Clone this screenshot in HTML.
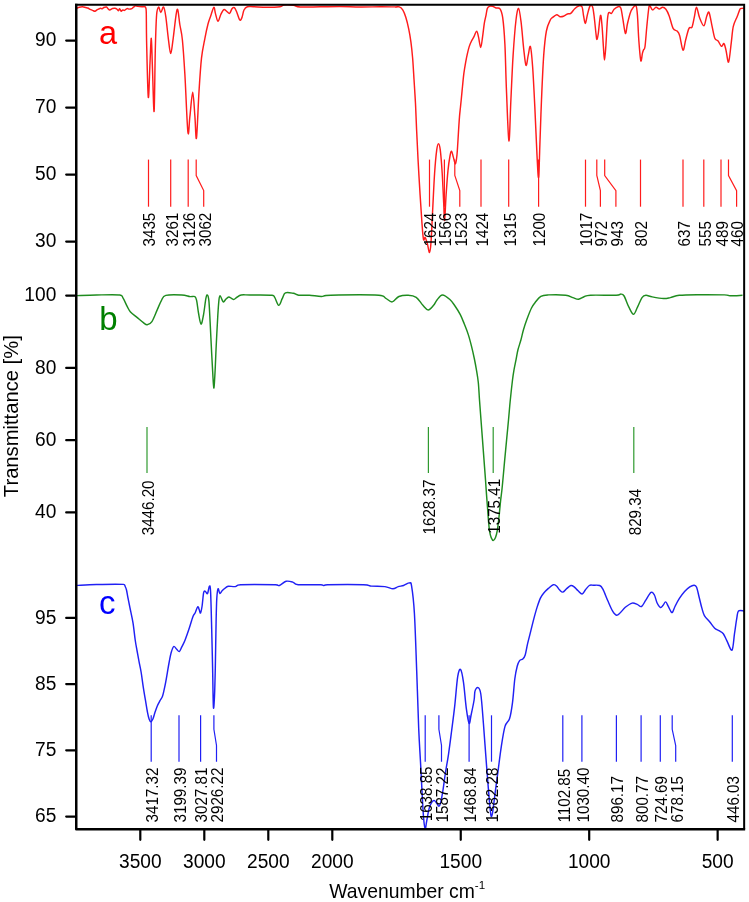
<!DOCTYPE html>
<html><head><meta charset="utf-8"><title>FTIR spectra</title>
<style>html,body{margin:0;padding:0;background:#fff;width:749px;height:902px;overflow:hidden}svg{display:block}svg{will-change:transform}</style>
</head><body>
<svg width="749" height="902" viewBox="0 0 749 902" font-family='"Liberation Sans", sans-serif'>
<rect width="749" height="902" fill="#fff"/>
<g fill="none" stroke-width="1.45" stroke-linejoin="round">
<path d="M76.60 8.30 C77.05 8.12 78.32 7.47 79.30 7.20 C80.28 6.93 81.43 6.65 82.50 6.70 C83.57 6.75 84.82 7.28 85.70 7.50 C86.58 7.72 87.08 7.68 87.80 8.00 C88.52 8.32 89.20 9.00 90.00 9.40 C90.80 9.80 91.77 10.10 92.60 10.40 C93.43 10.70 94.20 11.33 95.00 11.20 C95.80 11.07 96.47 10.08 97.40 9.60 C98.33 9.12 99.80 8.43 100.60 8.30 C101.40 8.17 101.67 8.93 102.20 8.80 C102.73 8.67 103.08 7.80 103.80 7.50 C104.52 7.20 105.78 6.78 106.50 7.00 C107.22 7.22 107.57 8.32 108.10 8.80 C108.63 9.28 109.08 9.90 109.70 9.90 C110.32 9.90 111.40 9.02 111.80 8.80 C112.10 8.58 111.80 8.68 112.10 8.60 C112.60 8.52 114.00 8.22 114.80 8.30 C115.60 8.38 116.28 8.70 116.90 9.10 C117.52 9.50 118.05 10.75 118.50 10.70 C118.95 10.65 119.15 8.72 119.60 8.80 C120.05 8.88 120.67 11.02 121.20 11.20 C121.73 11.38 122.27 10.03 122.80 9.90 C123.33 9.77 123.68 10.62 124.40 10.40 C125.12 10.18 126.30 8.82 127.10 8.60 C127.90 8.38 128.40 9.10 129.20 9.10 C130.00 9.10 131.18 8.92 131.90 8.60 C132.62 8.28 132.88 7.65 133.50 7.20 C134.12 6.75 134.88 6.03 135.60 5.90 C136.32 5.77 136.73 6.27 137.80 6.40 C138.87 6.53 140.85 6.65 142.00 6.70 C143.15 6.75 144.07 6.48 144.70 6.70 C145.33 6.92 145.53 6.88 145.80 8.00 C146.07 9.12 146.17 7.80 146.30 13.40 C146.43 19.00 146.30 27.62 146.60 41.60 C146.93 55.58 147.73 93.73 148.30 97.30 C148.87 100.87 149.50 72.83 150.00 63.00 C150.50 53.17 150.90 37.72 151.30 38.30 C151.70 38.88 151.93 54.32 152.40 66.50 C152.87 78.68 153.62 114.17 154.10 111.40 C154.58 108.63 154.88 65.97 155.30 49.90 C155.72 33.83 156.05 22.15 156.60 15.00 C157.15 7.85 157.90 7.42 158.60 7.00 C159.30 6.58 159.97 12.50 160.80 12.50 C161.63 12.50 162.77 6.32 163.60 7.00 C164.43 7.68 165.02 11.38 165.80 16.60 C166.58 21.82 167.48 32.13 168.30 38.30 C169.12 44.47 169.88 53.60 170.70 53.60 C171.52 53.60 172.13 45.63 173.20 38.30 C174.27 30.97 175.98 11.82 177.10 9.60 C178.22 7.38 179.02 19.93 179.90 25.00 C180.78 30.07 181.57 31.70 182.40 40.00 C183.23 48.30 183.98 59.43 184.90 74.80 C185.82 90.17 187.07 125.27 187.90 132.20 C188.73 139.13 189.10 123.05 189.90 116.40 C190.70 109.75 191.87 92.30 192.70 92.30 C193.53 92.30 194.27 108.78 194.90 116.40 C195.53 124.02 195.82 142.15 196.50 138.00 C197.18 133.85 198.17 104.80 199.00 91.50 C199.83 78.20 200.52 67.07 201.50 58.20 C202.48 49.33 203.82 44.00 204.90 38.30 C205.98 32.60 207.03 27.72 208.00 24.00 C208.97 20.28 209.73 18.78 210.70 16.00 C211.67 13.22 213.02 7.73 213.80 7.30 C214.58 6.87 214.70 11.05 215.40 13.40 C216.10 15.75 217.12 21.18 218.00 21.40 C218.88 21.62 219.73 16.67 220.70 14.70 C221.67 12.73 222.80 10.17 223.80 9.60 C224.80 9.03 225.73 10.67 226.70 11.30 C227.67 11.93 228.72 13.83 229.60 13.40 C230.48 12.97 231.20 9.65 232.00 8.70 C232.80 7.75 233.62 7.15 234.40 7.70 C235.18 8.25 235.80 9.95 236.70 12.00 C237.60 14.05 238.92 19.10 239.80 20.00 C240.68 20.90 241.30 19.07 242.00 17.40 C242.70 15.73 243.10 11.78 244.00 10.00 C244.90 8.22 245.83 7.25 247.40 6.70 C248.97 6.15 250.17 6.60 253.40 6.70 C256.63 6.80 262.37 7.30 266.80 7.30 C271.23 7.30 277.13 7.08 280.00 6.70 C282.87 6.32 281.75 5.23 284.00 5.00 C286.25 4.77 290.83 4.97 293.50 5.30 C296.17 5.63 295.58 6.75 300.00 7.00 C304.42 7.25 313.33 6.88 320.00 6.80 C326.67 6.72 333.33 6.47 340.00 6.50 C346.67 6.53 353.33 6.95 360.00 7.00 C366.67 7.05 374.17 6.82 380.00 6.80 C385.83 6.78 391.78 6.88 395.00 6.90 C398.22 6.92 397.98 6.37 399.30 6.90 C400.62 7.43 401.82 8.37 402.90 10.10 C403.98 11.83 404.83 14.18 405.80 17.30 C406.77 20.42 407.85 24.72 408.70 28.80 C409.55 32.88 410.25 36.98 410.90 41.80 C411.55 46.62 412.08 51.45 412.60 57.70 C413.12 63.95 413.52 71.62 414.00 79.30 C414.48 86.98 415.07 95.40 415.50 103.80 C415.93 112.20 416.18 120.53 416.60 129.70 C417.02 138.87 417.42 147.93 418.00 158.80 C418.58 169.67 419.43 184.08 420.10 194.90 C420.77 205.72 421.43 216.27 422.00 223.70 C422.57 231.13 422.97 237.22 423.50 239.50 C424.03 241.78 424.55 236.67 425.20 237.40 C425.85 238.13 426.68 241.38 427.40 243.90 C428.12 246.42 428.90 252.75 429.50 252.50 C430.10 252.25 430.47 249.60 431.00 242.40 C431.53 235.20 432.10 220.83 432.70 209.30 C433.30 197.77 433.93 183.05 434.60 173.20 C435.27 163.35 436.05 155.12 436.70 150.20 C437.35 145.28 437.90 143.70 438.50 143.70 C439.10 143.70 439.68 145.28 440.30 150.20 C440.92 155.12 441.63 164.40 442.20 173.20 C442.77 182.00 443.30 195.15 443.70 203.00 C444.10 210.85 444.20 221.65 444.60 220.30 C445.00 218.95 445.53 203.22 446.10 194.90 C446.67 186.58 447.35 176.88 448.00 170.40 C448.65 163.92 449.40 159.20 450.00 156.00 C450.60 152.80 451.03 150.97 451.60 151.20 C452.17 151.43 452.75 155.30 453.40 157.40 C454.05 159.50 454.92 164.10 455.50 163.80 C456.08 163.50 456.52 159.03 456.90 155.60 C457.28 152.17 457.52 147.48 457.80 143.20 C458.08 138.92 458.32 134.33 458.60 129.90 C458.88 125.47 459.20 120.30 459.50 116.60 C459.80 112.90 460.12 110.47 460.40 107.70 C460.68 104.93 460.85 103.53 461.20 100.00 C461.55 96.47 462.05 90.97 462.50 86.50 C462.95 82.03 463.38 77.18 463.90 73.20 C464.42 69.22 465.02 65.85 465.60 62.60 C466.18 59.35 466.80 56.37 467.40 53.70 C468.00 51.03 468.53 48.67 469.20 46.60 C469.87 44.53 470.58 43.00 471.40 41.30 C472.22 39.60 473.22 38.10 474.10 36.40 C474.98 34.70 475.97 31.02 476.70 31.10 C477.43 31.18 477.83 34.17 478.50 36.90 C479.17 39.63 480.02 47.55 480.70 47.50 C481.38 47.45 482.00 40.63 482.60 36.60 C483.20 32.57 483.73 26.85 484.30 23.30 C484.87 19.75 485.50 17.75 486.00 15.30 C486.50 12.85 486.75 10.10 487.30 8.60 C487.85 7.10 488.42 6.68 489.30 6.30 C490.18 5.92 491.48 6.02 492.60 6.30 C493.72 6.58 494.77 7.58 496.00 8.00 C497.23 8.42 498.88 7.18 500.00 8.80 C501.12 10.42 501.88 11.78 502.70 17.70 C503.52 23.62 504.28 32.47 504.90 44.30 C505.52 56.13 505.73 72.62 506.40 88.70 C507.07 104.78 508.15 138.95 508.90 140.80 C509.65 142.65 510.20 114.03 510.90 99.80 C511.60 85.57 512.25 68.70 513.10 55.40 C513.95 42.10 515.08 27.83 516.00 20.00 C516.92 12.17 517.75 8.03 518.60 8.40 C519.45 8.77 520.25 15.47 521.10 22.20 C521.95 28.93 522.88 41.60 523.70 48.80 C524.52 56.00 525.25 64.30 526.00 65.40 C526.75 66.50 527.47 58.53 528.20 55.40 C528.93 52.27 529.67 44.75 530.40 46.60 C531.13 48.45 531.87 56.53 532.60 66.50 C533.33 76.47 534.07 91.62 534.80 106.40 C535.53 121.18 536.37 143.37 537.00 155.20 C537.63 167.03 538.12 179.25 538.60 177.40 C539.08 175.55 539.42 157.03 539.90 144.10 C540.38 131.17 540.87 114.58 541.50 99.80 C542.13 85.02 542.88 66.87 543.70 55.40 C544.52 43.93 545.30 36.90 546.40 31.00 C547.50 25.10 549.25 22.27 550.30 20.00 C551.35 17.73 551.63 18.28 552.70 17.40 C553.77 16.52 555.48 14.82 556.70 14.70 C557.92 14.58 558.88 16.43 560.00 16.70 C561.12 16.97 562.17 16.75 563.40 16.30 C564.63 15.85 566.18 14.48 567.40 14.00 C568.62 13.52 569.48 14.28 570.70 13.40 C571.92 12.52 573.37 9.93 574.70 8.70 C576.03 7.47 577.48 6.33 578.70 6.00 C579.92 5.67 581.18 5.03 582.00 6.70 C582.82 8.37 583.03 13.22 583.60 16.00 C584.17 18.78 584.77 23.62 585.40 23.40 C586.03 23.18 586.63 17.60 587.40 14.70 C588.17 11.80 589.15 7.33 590.00 6.00 C590.85 4.67 591.82 5.03 592.50 6.70 C593.18 8.37 593.50 11.33 594.10 16.00 C594.70 20.67 595.62 30.80 596.10 34.70 C596.58 38.60 596.63 39.62 597.00 39.40 C597.37 39.18 597.72 37.40 598.30 33.40 C598.88 29.40 599.87 16.52 600.50 15.40 C601.13 14.28 601.62 21.48 602.10 26.70 C602.58 31.92 603.00 41.13 603.40 46.70 C603.80 52.27 604.10 60.10 604.50 60.10 C604.90 60.10 605.32 53.38 605.80 46.70 C606.28 40.02 606.92 25.67 607.40 20.00 C607.88 14.33 608.03 13.80 608.70 12.70 C609.37 11.60 610.50 13.97 611.40 13.40 C612.30 12.83 612.98 10.42 614.10 9.30 C615.22 8.18 616.98 6.92 618.10 6.70 C619.22 6.48 620.02 6.00 620.80 8.00 C621.58 10.00 622.03 14.47 622.80 18.70 C623.57 22.93 624.63 32.52 625.40 33.40 C626.17 34.28 626.62 27.33 627.40 24.00 C628.18 20.67 629.20 16.07 630.10 13.40 C631.00 10.73 631.80 9.23 632.80 8.00 C633.80 6.77 635.32 4.67 636.10 6.00 C636.88 7.33 637.05 10.33 637.50 16.00 C637.95 21.67 638.25 32.55 638.80 40.00 C639.35 47.45 640.20 58.47 640.80 60.70 C641.40 62.93 641.95 55.18 642.40 53.40 C642.85 51.62 643.07 51.12 643.50 50.00 C643.93 48.88 644.45 50.58 645.00 46.70 C645.55 42.82 646.17 33.15 646.80 26.70 C647.43 20.25 648.27 11.45 648.80 8.00 C649.33 4.55 649.37 5.68 650.00 6.00 C650.63 6.32 651.60 9.68 652.60 9.90 C653.60 10.12 654.88 7.45 656.00 7.30 C657.12 7.15 658.20 9.00 659.30 9.00 C660.40 9.00 661.50 7.25 662.60 7.30 C663.70 7.35 664.80 7.87 665.90 9.30 C667.00 10.73 668.00 12.72 669.20 15.90 C670.40 19.08 671.78 25.87 673.10 28.40 C674.42 30.93 676.00 29.88 677.10 31.10 C678.20 32.32 678.72 32.52 679.70 35.70 C680.68 38.88 682.00 49.53 683.00 50.20 C684.00 50.87 684.70 43.33 685.70 39.70 C686.70 36.07 687.95 30.50 689.00 28.40 C690.05 26.30 691.12 28.97 692.00 27.10 C692.88 25.23 693.55 20.50 694.30 17.20 C695.05 13.90 695.62 7.20 696.50 7.30 C697.38 7.40 698.37 14.72 699.60 17.80 C700.83 20.88 702.70 26.12 703.90 25.80 C705.10 25.48 705.93 18.10 706.80 15.90 C707.67 13.70 708.22 10.85 709.10 12.60 C709.98 14.35 711.15 22.12 712.10 26.40 C713.05 30.68 713.80 35.87 714.80 38.30 C715.80 40.73 717.00 39.67 718.10 41.00 C719.20 42.33 720.42 45.87 721.40 46.30 C722.38 46.73 723.23 42.95 724.00 43.60 C724.77 44.25 725.23 47.12 726.00 50.20 C726.77 53.28 727.72 63.42 728.60 62.10 C729.48 60.78 730.52 48.25 731.30 42.30 C732.08 36.35 732.32 30.70 733.30 26.40 C734.28 22.10 736.08 19.37 737.20 16.50 C738.32 13.63 739.27 10.55 740.00 9.20 C740.73 7.85 740.93 8.55 741.60 8.40 C742.27 8.25 743.60 8.32 744.00 8.30" stroke="#ff1c1c"/>
<path d="M77.10 295.60 C80.32 295.50 89.27 295.10 96.40 295.00 C103.53 294.90 115.45 294.47 119.90 295.00 C123.10 295.53 121.87 296.25 123.10 298.20 C124.33 300.15 126.07 304.40 127.30 306.70 C128.53 309.00 128.88 310.22 130.50 312.00 C132.12 313.78 134.85 315.62 137.00 317.40 C139.15 319.18 141.70 321.47 143.40 322.70 C145.10 323.93 145.78 324.98 147.20 324.80 C148.62 324.62 150.23 324.08 151.90 321.60 C153.57 319.12 155.60 313.45 157.20 309.90 C158.80 306.35 160.07 302.72 161.50 300.30 C162.93 297.88 162.42 296.28 165.80 295.40 C169.18 294.52 177.77 294.80 181.80 295.00 C185.83 295.20 187.82 296.33 190.00 296.60 C192.18 296.87 193.78 295.88 194.90 296.60 C196.02 297.32 196.10 298.17 196.70 300.90 C197.30 303.63 197.78 309.15 198.50 313.00 C199.22 316.85 200.18 323.58 201.00 324.00 C201.82 324.42 202.58 319.77 203.40 315.50 C204.22 311.23 205.23 301.82 205.90 298.40 C206.57 294.98 206.90 294.58 207.40 295.00 C207.90 295.42 208.45 296.47 208.90 300.90 C209.35 305.33 209.70 314.08 210.10 321.60 C210.50 329.12 210.88 337.87 211.30 346.00 C211.72 354.13 212.18 363.40 212.60 370.40 C213.02 377.40 213.40 387.60 213.80 388.00 C214.20 388.40 214.60 379.80 215.00 372.80 C215.40 365.80 215.73 355.55 216.20 346.00 C216.67 336.45 217.33 323.23 217.80 315.50 C218.27 307.77 218.62 302.90 219.00 299.60 C219.38 296.30 219.60 295.70 220.10 295.70 C220.60 295.70 221.43 298.55 222.00 299.60 C222.57 300.65 222.83 302.10 223.50 302.00 C224.17 301.90 225.12 299.83 226.00 299.00 C226.88 298.17 227.88 297.10 228.80 297.00 C229.72 296.90 230.62 298.00 231.50 298.40 C232.38 298.80 233.18 299.60 234.10 299.40 C235.02 299.20 235.82 297.93 237.00 297.20 C238.18 296.47 239.03 295.37 241.20 295.00 C243.37 294.63 244.87 294.97 250.00 295.00 C255.13 295.03 267.88 294.82 272.00 295.20 C274.70 295.58 273.58 295.62 274.70 297.30 C275.82 298.98 277.45 305.07 278.70 305.30 C279.95 305.53 281.08 300.78 282.20 298.70 C283.32 296.62 283.53 293.70 285.40 292.80 C287.27 291.90 291.18 292.90 293.40 293.30 C295.62 293.70 296.03 294.88 298.70 295.20 C301.37 295.52 305.62 294.98 309.40 295.20 C313.18 295.42 317.83 296.50 321.40 296.50 C324.97 296.50 321.40 295.42 330.80 295.20 C340.38 294.98 369.78 294.72 378.90 295.20 C385.50 295.68 383.28 296.98 385.50 298.10 C387.72 299.22 389.97 302.17 392.20 301.90 C394.43 301.63 396.23 297.62 398.90 296.50 C401.57 295.38 405.32 295.07 408.20 295.20 C411.08 295.33 413.75 295.62 416.20 297.30 C418.65 298.98 420.90 303.20 422.90 305.30 C424.90 307.40 426.42 309.90 428.20 309.90 C429.98 309.90 432.13 306.95 433.60 305.30 C435.07 303.65 435.53 301.72 437.00 300.00 C438.47 298.28 440.25 295.08 442.40 295.00 C444.55 294.92 447.80 297.67 449.90 299.50 C452.00 301.33 453.27 303.48 455.00 306.00 C456.73 308.52 458.75 311.60 460.30 314.60 C461.85 317.60 462.97 320.67 464.30 324.00 C465.63 327.33 467.08 330.83 468.30 334.60 C469.52 338.37 470.60 342.62 471.60 346.60 C472.60 350.58 473.52 354.73 474.30 358.50 C475.08 362.27 475.63 365.20 476.30 369.20 C476.97 373.20 477.77 377.37 478.30 382.50 C478.83 387.63 479.05 393.75 479.50 400.00 C479.95 406.25 480.50 413.35 481.00 420.00 C481.50 426.65 482.00 433.25 482.50 439.90 C483.00 446.55 483.50 453.25 484.00 459.90 C484.50 466.55 485.08 474.05 485.50 479.80 C485.92 485.55 486.15 489.57 486.50 494.40 C486.85 499.23 487.23 504.00 487.60 508.80 C487.97 513.60 488.35 519.35 488.70 523.20 C489.05 527.05 489.28 529.50 489.70 531.90 C490.12 534.30 490.60 536.17 491.20 537.60 C491.80 539.03 492.58 540.50 493.30 540.50 C494.02 540.50 494.83 539.28 495.50 537.60 C496.17 535.92 496.70 534.00 497.30 530.40 C497.90 526.80 498.57 520.80 499.10 516.00 C499.63 511.20 500.03 505.93 500.50 501.60 C500.97 497.27 501.50 493.63 501.90 490.00 C502.30 486.37 502.43 484.82 502.90 479.80 C503.37 474.78 504.08 466.55 504.70 459.90 C505.32 453.25 505.97 446.55 506.60 439.90 C507.23 433.25 507.88 426.65 508.50 420.00 C509.12 413.35 509.63 406.67 510.30 400.00 C510.97 393.33 511.88 385.02 512.50 380.00 C513.12 374.98 513.42 373.25 514.00 369.90 C514.58 366.55 515.35 363.22 516.00 359.90 C516.65 356.58 517.08 353.32 517.90 350.00 C518.72 346.68 519.98 343.33 520.90 340.00 C521.82 336.67 522.35 333.57 523.40 330.00 C524.45 326.43 525.85 322.27 527.20 318.60 C528.55 314.93 530.20 310.65 531.50 308.00 C532.80 305.35 533.45 304.65 535.00 302.70 C536.55 300.75 538.50 297.60 540.80 296.30 C543.10 295.00 544.65 295.08 548.80 294.90 C552.95 294.72 561.68 294.75 565.70 295.20 C569.72 295.65 570.77 296.93 572.90 297.60 C575.03 298.27 576.63 299.33 578.50 299.20 C580.37 299.07 582.10 297.47 584.10 296.80 C586.10 296.13 585.17 295.47 590.50 295.20 C595.83 294.93 611.03 295.38 616.10 295.20 C620.90 295.02 619.57 293.97 620.90 294.10 C622.23 294.23 622.77 293.82 624.10 296.00 C625.43 298.18 627.33 304.15 628.90 307.20 C630.47 310.25 632.07 314.32 633.50 314.30 C634.93 314.28 636.08 309.88 637.50 307.10 C638.92 304.32 640.60 299.57 642.00 297.60 C643.40 295.63 644.20 295.42 645.90 295.30 C647.60 295.18 649.27 296.37 652.20 296.90 C655.13 297.43 660.48 298.38 663.50 298.50 C666.52 298.62 667.67 298.13 670.30 297.60 C672.93 297.07 674.80 295.78 679.30 295.30 C683.80 294.82 689.78 294.77 697.30 294.70 C704.82 294.63 718.95 294.72 724.40 294.90 C729.85 295.08 726.98 295.73 730.00 295.80 C733.02 295.87 740.42 295.38 742.50 295.30" stroke="#1f8c1f"/>
<path d="M77.10 585.40 C80.32 585.25 88.67 584.67 96.40 584.50 C104.13 584.33 118.70 584.07 123.50 584.40 C125.20 584.73 124.70 585.57 125.20 586.50 C125.70 587.43 126.03 588.08 126.50 590.00 C126.97 591.92 127.42 595.00 128.00 598.00 C128.58 601.00 129.17 603.85 130.00 608.00 C130.83 612.15 132.13 617.57 133.00 622.90 C133.87 628.23 134.53 635.40 135.20 640.00 C135.87 644.60 136.37 646.93 137.00 650.50 C137.63 654.07 138.32 657.82 139.00 661.40 C139.68 664.98 140.38 667.67 141.10 672.00 C141.82 676.33 142.58 682.75 143.30 687.40 C144.02 692.05 144.70 695.75 145.40 699.90 C146.10 704.05 146.88 709.12 147.50 712.30 C148.12 715.48 148.55 717.43 149.10 719.00 C149.65 720.57 150.17 721.70 150.80 721.70 C151.43 721.70 152.20 720.57 152.90 719.00 C153.60 717.43 154.25 714.52 155.00 712.30 C155.75 710.08 156.57 707.63 157.40 705.70 C158.23 703.77 159.17 702.23 160.00 700.70 C160.83 699.17 161.72 698.30 162.40 696.50 C163.08 694.70 163.53 692.38 164.10 689.90 C164.67 687.42 165.25 684.52 165.80 681.60 C166.35 678.68 166.85 675.58 167.40 672.40 C167.95 669.22 168.47 665.82 169.10 662.50 C169.73 659.18 170.43 655.17 171.20 652.50 C171.97 649.83 172.82 647.08 173.70 646.50 C174.58 645.92 175.57 648.15 176.50 649.00 C177.43 649.85 178.42 651.95 179.30 651.60 C180.18 651.25 180.85 648.80 181.80 646.90 C182.75 645.00 183.82 643.13 185.00 640.20 C186.18 637.27 187.60 633.18 188.90 629.30 C190.20 625.42 191.77 619.62 192.80 616.90 C193.83 614.18 194.28 614.68 195.10 613.00 C195.92 611.32 197.00 607.32 197.70 606.80 C198.40 606.28 198.83 608.87 199.30 609.90 C199.77 610.93 200.03 613.65 200.50 613.00 C200.97 612.35 201.58 609.37 202.10 606.00 C202.62 602.63 203.08 595.25 203.60 592.80 C204.12 590.35 204.55 591.17 205.20 591.30 C205.85 591.43 206.80 594.45 207.50 593.60 C208.20 592.75 208.88 586.45 209.40 586.20 C209.92 585.95 210.22 584.92 210.60 592.10 C210.98 599.28 211.37 616.63 211.70 629.30 C212.03 641.97 212.32 655.17 212.60 668.10 C212.88 681.03 213.08 702.23 213.40 706.90 C213.72 711.57 214.18 702.57 214.50 696.10 C214.82 689.63 215.03 680.52 215.30 668.10 C215.57 655.68 215.85 633.23 216.10 621.60 C216.35 609.97 216.47 603.78 216.80 598.30 C217.13 592.82 217.58 589.48 218.10 588.70 C218.62 587.92 219.20 593.30 219.90 593.60 C220.60 593.90 221.27 591.53 222.30 590.50 C223.33 589.47 225.07 588.12 226.10 587.40 C227.13 586.68 226.97 586.33 228.50 586.20 C230.03 586.07 233.27 586.85 235.30 586.60 C237.33 586.35 235.30 585.02 240.70 584.70 C247.38 584.38 268.95 584.57 275.40 584.70 C279.40 584.83 277.62 586.07 279.40 585.50 C281.18 584.93 283.87 581.87 286.10 581.30 C288.33 580.73 290.80 581.53 292.80 582.10 C294.80 582.67 293.43 584.27 298.10 584.70 C302.77 585.13 316.57 584.57 320.80 584.70 C323.50 584.83 322.38 585.50 323.50 585.50 C324.62 585.50 323.50 584.83 327.50 584.70 C334.17 584.57 356.17 584.47 363.50 584.70 C370.83 584.93 367.93 585.78 371.50 586.10 C375.07 586.42 381.33 586.15 384.90 586.60 C388.47 587.05 390.68 588.80 392.90 588.80 C395.12 588.80 396.42 587.15 398.20 586.60 C399.98 586.05 401.73 586.12 403.60 585.50 C405.47 584.88 408.07 582.80 409.40 582.90 C410.73 583.00 410.77 581.05 411.60 586.10 C412.43 591.15 413.55 599.07 414.40 613.20 C415.25 627.33 415.98 651.68 416.70 670.90 C417.42 690.12 418.07 713.32 418.70 728.50 C419.33 743.68 419.93 751.23 420.50 762.00 C421.07 772.77 421.58 783.77 422.10 793.10 C422.62 802.43 423.08 812.05 423.60 818.00 C424.12 823.95 424.68 828.28 425.20 828.80 C425.72 829.32 426.05 824.47 426.70 821.10 C427.35 817.73 428.18 811.83 429.10 808.60 C430.02 805.37 431.30 803.03 432.20 801.70 C433.10 800.37 433.73 800.35 434.50 800.60 C435.27 800.85 436.07 802.25 436.80 803.20 C437.53 804.15 438.25 806.43 438.90 806.30 C439.55 806.17 440.02 805.12 440.70 802.40 C441.38 799.68 442.22 794.90 443.00 790.00 C443.78 785.10 444.48 778.95 445.40 773.00 C446.32 767.05 447.47 761.30 448.50 754.30 C449.53 747.30 450.57 739.02 451.60 731.00 C452.63 722.98 453.68 715.25 454.70 706.20 C455.72 697.15 456.72 682.82 457.70 676.70 C458.68 670.58 459.63 668.55 460.60 669.50 C461.57 670.45 462.55 675.92 463.50 682.40 C464.45 688.88 465.37 701.58 466.30 708.40 C467.23 715.22 468.32 722.12 469.10 723.30 C469.88 724.48 470.17 719.38 471.00 715.50 C471.83 711.62 473.43 704.07 474.10 700.00 C474.77 695.93 474.37 693.17 475.00 691.10 C475.63 689.03 476.93 687.12 477.90 687.60 C478.87 688.08 479.88 688.05 480.80 694.00 C481.72 699.95 482.58 713.25 483.40 723.30 C484.22 733.35 484.92 743.95 485.70 754.30 C486.48 764.65 487.37 776.35 488.10 785.40 C488.83 794.45 489.58 803.43 490.10 808.60 C490.62 813.77 490.77 815.87 491.20 816.40 C491.63 816.93 492.05 815.68 492.70 811.80 C493.35 807.92 494.18 800.10 495.10 793.10 C496.02 786.10 497.17 777.55 498.20 769.80 C499.23 762.05 500.17 753.83 501.30 746.60 C502.43 739.37 503.62 731.08 505.00 726.40 C506.38 721.72 508.35 722.47 509.60 718.50 C510.85 714.53 511.63 709.18 512.50 702.60 C513.37 696.02 514.02 685.07 514.80 679.00 C515.58 672.93 516.40 669.27 517.20 666.20 C518.00 663.13 518.67 661.80 519.60 660.60 C520.53 659.40 521.87 659.93 522.80 659.00 C523.73 658.07 524.40 657.55 525.20 655.00 C526.00 652.45 526.67 647.72 527.60 643.70 C528.53 639.68 529.73 635.17 530.80 630.90 C531.87 626.63 532.93 622.10 534.00 618.10 C535.07 614.10 536.13 610.23 537.20 606.90 C538.27 603.57 539.33 600.38 540.40 598.10 C541.47 595.82 542.27 594.82 543.60 593.20 C544.93 591.58 546.78 589.82 548.40 588.40 C550.02 586.98 551.95 585.10 553.30 584.70 C554.65 584.30 555.43 585.12 556.50 586.00 C557.57 586.88 558.63 588.98 559.70 590.00 C560.77 591.02 561.70 592.37 562.90 592.10 C564.10 591.83 565.57 589.50 566.90 588.40 C568.23 587.30 569.70 585.77 570.90 585.50 C572.10 585.23 572.90 585.92 574.10 586.80 C575.30 587.68 576.77 589.60 578.10 590.80 C579.43 592.00 580.90 594.13 582.10 594.00 C583.30 593.87 584.10 591.42 585.30 590.00 C586.50 588.58 587.97 586.30 589.30 585.50 C590.63 584.70 591.57 585.20 593.30 585.20 C595.03 585.20 598.10 584.83 599.70 585.50 C601.30 586.17 601.57 586.70 602.90 589.20 C604.23 591.70 606.10 596.88 607.70 600.50 C609.30 604.12 611.03 608.45 612.50 610.90 C613.97 613.35 615.17 614.93 616.50 615.20 C617.83 615.47 619.03 613.82 620.50 612.50 C621.97 611.18 623.37 608.87 625.30 607.30 C627.23 605.73 630.12 603.58 632.10 603.10 C634.08 602.62 635.63 603.83 637.20 604.40 C638.77 604.97 640.07 607.22 641.50 606.50 C642.93 605.78 644.22 602.45 645.80 600.10 C647.38 597.75 649.57 593.25 651.00 592.40 C652.43 591.55 653.40 593.28 654.40 595.00 C655.40 596.72 655.98 600.62 657.00 602.70 C658.02 604.78 659.48 607.07 660.50 607.50 C661.52 607.93 662.25 606.23 663.10 605.30 C663.95 604.37 664.75 601.75 665.60 601.90 C666.45 602.05 667.33 604.63 668.20 606.20 C669.07 607.77 670.08 610.30 670.80 611.30 C671.52 612.30 671.78 613.05 672.50 612.20 C673.22 611.35 673.95 608.50 675.10 606.20 C676.25 603.90 677.82 600.85 679.40 598.40 C680.98 595.95 682.87 593.42 684.60 591.50 C686.33 589.58 688.22 587.95 689.80 586.90 C691.38 585.85 692.97 585.15 694.10 585.20 C695.23 585.25 695.75 585.15 696.60 587.20 C697.45 589.25 698.33 594.05 699.20 597.50 C700.07 600.95 700.93 604.88 701.80 607.90 C702.67 610.92 703.10 613.30 704.40 615.60 C705.70 617.90 707.88 619.60 709.60 621.70 C711.32 623.80 713.13 626.72 714.70 628.20 C716.27 629.68 717.57 629.68 719.00 630.60 C720.43 631.52 722.00 632.03 723.30 633.70 C724.60 635.37 725.35 637.87 726.80 640.60 C728.25 643.33 730.72 651.25 732.00 650.10 C733.28 648.95 733.70 639.02 734.50 633.70 C735.30 628.38 736.13 621.98 736.80 618.20 C737.47 614.42 737.30 612.20 738.50 611.00 C739.70 609.80 743.08 611.00 744.00 611.00" stroke="#2020f4"/>
</g>
<g fill="#000">
<line x1="148.50" y1="159.6" x2="148.50" y2="206.7" stroke="#ff1c1c" stroke-width="1.2"/>
<text transform="translate(155.30 246.5) rotate(-90) scale(1 1.030)" font-size="15.2">3435</text>
<line x1="170.70" y1="159.6" x2="170.70" y2="206.7" stroke="#ff1c1c" stroke-width="1.2"/>
<text transform="translate(177.50 246.5) rotate(-90) scale(1 1.030)" font-size="15.2">3261</text>
<line x1="188.20" y1="159.6" x2="188.20" y2="206.7" stroke="#ff1c1c" stroke-width="1.2"/>
<text transform="translate(195.00 246.5) rotate(-90) scale(1 1.030)" font-size="15.2">3126</text>
<polyline points="196.20,159.6 196.20,175.5 203.70,190.6 203.70,206.7" fill="none" stroke="#ff1c1c" stroke-width="1.2"/>
<text transform="translate(210.50 246.5) rotate(-90) scale(1 1.030)" font-size="15.2">3062</text>
<line x1="429.50" y1="159.6" x2="429.50" y2="206.7" stroke="#ff1c1c" stroke-width="1.2"/>
<text transform="translate(436.30 246.5) rotate(-90) scale(1 1.030)" font-size="15.2">1624</text>
<line x1="444.40" y1="159.6" x2="444.40" y2="206.7" stroke="#ff1c1c" stroke-width="1.2"/>
<text transform="translate(451.20 246.5) rotate(-90) scale(1 1.030)" font-size="15.2">1566</text>
<polyline points="454.80,159.6 454.80,175.5 459.80,190.6 459.80,206.7" fill="none" stroke="#ff1c1c" stroke-width="1.2"/>
<text transform="translate(466.60 246.5) rotate(-90) scale(1 1.030)" font-size="15.2">1523</text>
<line x1="481.00" y1="159.6" x2="481.00" y2="206.7" stroke="#ff1c1c" stroke-width="1.2"/>
<text transform="translate(487.80 246.5) rotate(-90) scale(1 1.030)" font-size="15.2">1424</text>
<line x1="508.70" y1="159.6" x2="508.70" y2="206.7" stroke="#ff1c1c" stroke-width="1.2"/>
<text transform="translate(515.50 246.5) rotate(-90) scale(1 1.030)" font-size="15.2">1315</text>
<line x1="538.60" y1="159.6" x2="538.60" y2="206.7" stroke="#ff1c1c" stroke-width="1.2"/>
<text transform="translate(545.40 246.5) rotate(-90) scale(1 1.030)" font-size="15.2">1200</text>
<line x1="585.50" y1="159.6" x2="585.50" y2="206.7" stroke="#ff1c1c" stroke-width="1.2"/>
<text transform="translate(592.30 246.5) rotate(-90) scale(1 1.030)" font-size="15.2">1017</text>
<polyline points="596.80,159.6 596.80,175.5 600.40,190.6 600.40,206.7" fill="none" stroke="#ff1c1c" stroke-width="1.2"/>
<text transform="translate(607.20 246.5) rotate(-90) scale(1 1.030)" font-size="15.2">972</text>
<polyline points="604.70,159.6 604.70,175.5 615.90,190.6 615.90,206.7" fill="none" stroke="#ff1c1c" stroke-width="1.2"/>
<text transform="translate(622.70 246.5) rotate(-90) scale(1 1.030)" font-size="15.2">943</text>
<line x1="640.50" y1="159.6" x2="640.50" y2="206.7" stroke="#ff1c1c" stroke-width="1.2"/>
<text transform="translate(647.30 246.5) rotate(-90) scale(1 1.030)" font-size="15.2">802</text>
<line x1="683.00" y1="159.6" x2="683.00" y2="206.7" stroke="#ff1c1c" stroke-width="1.2"/>
<text transform="translate(689.80 246.5) rotate(-90) scale(1 1.030)" font-size="15.2">637</text>
<line x1="703.80" y1="159.6" x2="703.80" y2="206.7" stroke="#ff1c1c" stroke-width="1.2"/>
<text transform="translate(710.60 246.5) rotate(-90) scale(1 1.030)" font-size="15.2">555</text>
<line x1="721.00" y1="159.6" x2="721.00" y2="206.7" stroke="#ff1c1c" stroke-width="1.2"/>
<text transform="translate(727.80 246.5) rotate(-90) scale(1 1.030)" font-size="15.2">489</text>
<polyline points="728.50,159.6 728.50,175.5 736.60,190.6 736.60,206.7" fill="none" stroke="#ff1c1c" stroke-width="1.2"/>
<text transform="translate(743.40 246.5) rotate(-90) scale(1 1.030)" font-size="15.2">460</text>
<line x1="147.00" y1="427.0" x2="147.00" y2="473.0" stroke="#2f9a2f" stroke-width="1.2"/>
<text transform="translate(153.80 535.3) rotate(-90) scale(1 1.030)" font-size="15.2">3446.20</text>
<line x1="428.40" y1="427.0" x2="428.40" y2="473.0" stroke="#2f9a2f" stroke-width="1.2"/>
<text transform="translate(435.20 534.5) rotate(-90) scale(1 1.030)" font-size="15.2">1628.37</text>
<line x1="493.20" y1="427.0" x2="493.20" y2="473.0" stroke="#2f9a2f" stroke-width="1.2"/>
<text transform="translate(500.00 533.7) rotate(-90) scale(1 1.030)" font-size="15.2">1375.41</text>
<line x1="633.80" y1="427.0" x2="633.80" y2="473.0" stroke="#2f9a2f" stroke-width="1.2"/>
<text transform="translate(640.60 535.3) rotate(-90) scale(1 1.030)" font-size="15.2">829.34</text>
<line x1="151.20" y1="715.3" x2="151.20" y2="761.7" stroke="#2020f4" stroke-width="1.2"/>
<text transform="translate(158.00 822.5) rotate(-90) scale(1 1.030)" font-size="15.2">3417.32</text>
<line x1="179.00" y1="715.3" x2="179.00" y2="761.7" stroke="#2020f4" stroke-width="1.2"/>
<text transform="translate(185.80 822.5) rotate(-90) scale(1 1.030)" font-size="15.2">3199.39</text>
<line x1="200.60" y1="715.3" x2="200.60" y2="761.7" stroke="#2020f4" stroke-width="1.2"/>
<text transform="translate(207.40 822.5) rotate(-90) scale(1 1.030)" font-size="15.2">3027.81</text>
<polyline points="213.90,715.3 213.90,729.3 216.50,745.5 216.50,761.7" fill="none" stroke="#2020f4" stroke-width="1.2"/>
<text transform="translate(223.30 822.5) rotate(-90) scale(1 1.030)" font-size="15.2">2926.22</text>
<line x1="425.20" y1="715.3" x2="425.20" y2="761.7" stroke="#2020f4" stroke-width="1.2"/>
<text transform="translate(432.00 821.3) rotate(-90) scale(1 1.030)" font-size="15.2">1638.85</text>
<polyline points="438.90,715.3 438.90,729.3 441.50,745.5 441.50,761.7" fill="none" stroke="#2020f4" stroke-width="1.2"/>
<text transform="translate(448.30 822.5) rotate(-90) scale(1 1.030)" font-size="15.2">1587.22</text>
<line x1="469.10" y1="715.3" x2="469.10" y2="761.7" stroke="#2020f4" stroke-width="1.2"/>
<text transform="translate(475.90 822.5) rotate(-90) scale(1 1.030)" font-size="15.2">1468.84</text>
<line x1="491.50" y1="715.3" x2="491.50" y2="761.7" stroke="#2020f4" stroke-width="1.2"/>
<text transform="translate(498.30 822.5) rotate(-90) scale(1 1.030)" font-size="15.2">1382.28</text>
<line x1="562.80" y1="715.3" x2="562.80" y2="761.7" stroke="#2020f4" stroke-width="1.2"/>
<text transform="translate(569.60 822.5) rotate(-90) scale(1 1.030)" font-size="15.2">1102.85</text>
<line x1="581.90" y1="715.3" x2="581.90" y2="761.7" stroke="#2020f4" stroke-width="1.2"/>
<text transform="translate(588.70 822.5) rotate(-90) scale(1 1.030)" font-size="15.2">1030.40</text>
<line x1="616.40" y1="715.3" x2="616.40" y2="761.7" stroke="#2020f4" stroke-width="1.2"/>
<text transform="translate(623.20 822.5) rotate(-90) scale(1 1.030)" font-size="15.2">896.17</text>
<line x1="641.10" y1="715.3" x2="641.10" y2="761.7" stroke="#2020f4" stroke-width="1.2"/>
<text transform="translate(647.90 822.5) rotate(-90) scale(1 1.030)" font-size="15.2">800.77</text>
<line x1="660.30" y1="715.3" x2="660.30" y2="761.7" stroke="#2020f4" stroke-width="1.2"/>
<text transform="translate(667.10 822.5) rotate(-90) scale(1 1.030)" font-size="15.2">724.69</text>
<polyline points="672.20,715.3 672.20,729.3 675.70,745.5 675.70,761.7" fill="none" stroke="#2020f4" stroke-width="1.2"/>
<text transform="translate(682.50 822.5) rotate(-90) scale(1 1.030)" font-size="15.2">678.15</text>
<line x1="732.30" y1="715.3" x2="732.30" y2="761.7" stroke="#2020f4" stroke-width="1.2"/>
<text transform="translate(739.10 822.5) rotate(-90) scale(1 1.030)" font-size="15.2">446.03</text>
</g>
<text x="99" y="43.6" font-size="32.5" fill="#ff0000">a</text>
<text x="99.2" y="330" font-size="33" fill="#008000">b</text>
<text x="99" y="614.3" font-size="33" fill="#0000ff">c</text>
<path d="M76.25 3.75 V829.25 H745.15" fill="none" stroke="#000" stroke-width="2.5" stroke-linejoin="round"/>
<path d="M75 4.75 H744.15 V829.25" fill="none" stroke="#000" stroke-width="2" stroke-linejoin="miter"/>
<line x1="66.2" y1="40.6" x2="76" y2="40.6" stroke="#000" stroke-width="2.2" stroke-linecap="round"/>
<text transform="translate(56.3 46.4) scale(0.93 1)" font-size="20.6" text-anchor="end">90</text>
<line x1="66.2" y1="107.6" x2="76" y2="107.6" stroke="#000" stroke-width="2.2" stroke-linecap="round"/>
<text transform="translate(56.3 113.4) scale(0.93 1)" font-size="20.6" text-anchor="end">70</text>
<line x1="66.2" y1="174.6" x2="76" y2="174.6" stroke="#000" stroke-width="2.2" stroke-linecap="round"/>
<text transform="translate(56.3 180.4) scale(0.93 1)" font-size="20.6" text-anchor="end">50</text>
<line x1="66.2" y1="241.6" x2="76" y2="241.6" stroke="#000" stroke-width="2.2" stroke-linecap="round"/>
<text transform="translate(56.3 247.4) scale(0.93 1)" font-size="20.6" text-anchor="end">30</text>
<line x1="66.2" y1="295.6" x2="76" y2="295.6" stroke="#000" stroke-width="2.2" stroke-linecap="round"/>
<text transform="translate(56.3 301.4) scale(0.93 1)" font-size="20.6" text-anchor="end">100</text>
<line x1="66.2" y1="367.9" x2="76" y2="367.9" stroke="#000" stroke-width="2.2" stroke-linecap="round"/>
<text transform="translate(56.3 373.7) scale(0.93 1)" font-size="20.6" text-anchor="end">80</text>
<line x1="66.2" y1="440.2" x2="76" y2="440.2" stroke="#000" stroke-width="2.2" stroke-linecap="round"/>
<text transform="translate(56.3 446.0) scale(0.93 1)" font-size="20.6" text-anchor="end">60</text>
<line x1="66.2" y1="512.4" x2="76" y2="512.4" stroke="#000" stroke-width="2.2" stroke-linecap="round"/>
<text transform="translate(56.3 518.2) scale(0.93 1)" font-size="20.6" text-anchor="end">40</text>
<line x1="66.2" y1="617.9" x2="76" y2="617.9" stroke="#000" stroke-width="2.2" stroke-linecap="round"/>
<text transform="translate(56.3 623.7) scale(0.93 1)" font-size="20.6" text-anchor="end">95</text>
<line x1="66.2" y1="684.1" x2="76" y2="684.1" stroke="#000" stroke-width="2.2" stroke-linecap="round"/>
<text transform="translate(56.3 689.9) scale(0.93 1)" font-size="20.6" text-anchor="end">85</text>
<line x1="66.2" y1="750.3" x2="76" y2="750.3" stroke="#000" stroke-width="2.2" stroke-linecap="round"/>
<text transform="translate(56.3 756.1) scale(0.93 1)" font-size="20.6" text-anchor="end">75</text>
<line x1="66.2" y1="816.6" x2="76" y2="816.6" stroke="#000" stroke-width="2.2" stroke-linecap="round"/>
<text transform="translate(56.3 822.4) scale(0.93 1)" font-size="20.6" text-anchor="end">65</text>
<line x1="140.30" y1="829" x2="140.30" y2="839.8" stroke="#000" stroke-width="2.2" stroke-linecap="round"/>
<text transform="translate(140.30 868.2) scale(0.93 1)" font-size="20.6" text-anchor="middle">3500</text>
<line x1="204.30" y1="829" x2="204.30" y2="839.8" stroke="#000" stroke-width="2.2" stroke-linecap="round"/>
<text transform="translate(204.30 868.2) scale(0.93 1)" font-size="20.6" text-anchor="middle">3000</text>
<line x1="268.30" y1="829" x2="268.30" y2="839.8" stroke="#000" stroke-width="2.2" stroke-linecap="round"/>
<text transform="translate(268.30 868.2) scale(0.93 1)" font-size="20.6" text-anchor="middle">2500</text>
<line x1="332.30" y1="829" x2="332.30" y2="839.8" stroke="#000" stroke-width="2.2" stroke-linecap="round"/>
<text transform="translate(332.30 868.2) scale(0.93 1)" font-size="20.6" text-anchor="middle">2000</text>
<line x1="460.75" y1="829" x2="460.75" y2="839.8" stroke="#000" stroke-width="2.2" stroke-linecap="round"/>
<text transform="translate(460.75 868.2) scale(0.93 1)" font-size="20.6" text-anchor="middle">1500</text>
<line x1="589.20" y1="829" x2="589.20" y2="839.8" stroke="#000" stroke-width="2.2" stroke-linecap="round"/>
<text transform="translate(589.20 868.2) scale(0.93 1)" font-size="20.6" text-anchor="middle">1000</text>
<line x1="717.65" y1="829" x2="717.65" y2="839.8" stroke="#000" stroke-width="2.2" stroke-linecap="round"/>
<text transform="translate(717.65 868.2) scale(0.93 1)" font-size="20.6" text-anchor="middle">500</text>
<text transform="translate(18 416.2) rotate(-90)" font-size="20.2" text-anchor="middle">Transmittance [%]</text>
<text x="329.3" y="897.5" font-size="19.35">Wavenumber cm<tspan font-size="11.6" dy="-9">-1</tspan></text>
</svg>
</body></html>
